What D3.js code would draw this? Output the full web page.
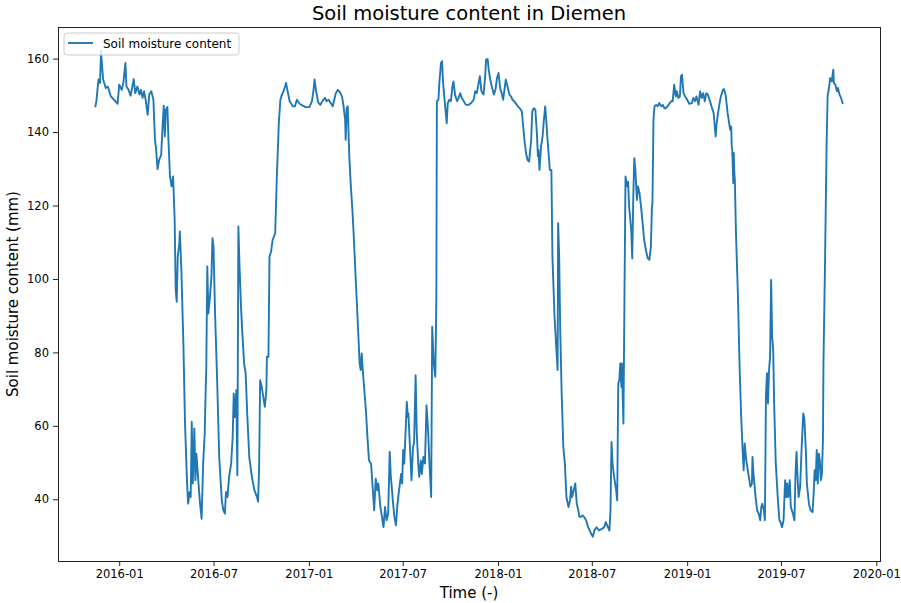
<!DOCTYPE html>
<html>
<head>
<meta charset="utf-8">
<script src="https://cdn.jsdelivr.net/npm/d3@7"></script>
<style>
  body { margin: 0; background: #fff; }
  svg { display: block; }
  text { font-family: "DejaVu Sans", sans-serif; fill: #000; }
</style>
</head>
<body>
<svg id="chart" width="901" height="603"></svg>
<script>
// ---------------- data ----------------
const chartTitle = "Soil moisture content in Diemen";
const seriesName = "Soil moisture content";
const xLabel = "Time (-)";
const yLabel = "Soil moisture content (mm)";

const dates = [
"2015-11-16","2015-11-18","2015-11-22","2015-11-25","2015-11-27","2015-11-29","2015-12-01","2015-12-06","2015-12-10","2015-12-16","2015-12-22","2015-12-29",
"2016-01-01","2016-01-06","2016-01-09","2016-01-13","2016-01-15","2016-01-19","2016-01-23","2016-01-29","2016-02-01","2016-02-05","2016-02-09","2016-02-12","2016-02-15","2016-02-18","2016-02-21","2016-02-25","2016-02-28",
"2016-03-03","2016-03-07","2016-03-10","2016-03-12","2016-03-15","2016-03-18","2016-03-22","2016-03-25","2016-03-27","2016-03-29","2016-03-31",
"2016-04-03","2016-04-05","2016-04-08","2016-04-11","2016-04-14","2016-04-17","2016-04-19","2016-04-21","2016-04-23","2016-04-26","2016-04-27","2016-04-30",
"2016-05-04","2016-05-07","2016-05-11","2016-05-13","2016-05-16","2016-05-18","2016-05-20","2016-05-22","2016-05-25","2016-05-27","2016-05-29",
"2016-06-02","2016-06-05","2016-06-08","2016-06-11","2016-06-14","2016-06-16","2016-06-17","2016-06-19","2016-06-21","2016-06-24","2016-06-27","2016-06-29",
"2016-07-01","2016-07-04","2016-07-08","2016-07-12","2016-07-17","2016-07-20","2016-07-23","2016-07-25","2016-07-28","2016-07-31",
"2016-08-04","2016-08-07","2016-08-09","2016-08-11","2016-08-14","2016-08-16","2016-08-18","2016-08-20","2016-08-23","2016-08-26","2016-08-29",
"2016-09-01","2016-09-04","2016-09-08","2016-09-13","2016-09-18","2016-09-23","2016-09-25","2016-09-27","2016-09-29",
"2016-10-02","2016-10-06","2016-10-08","2016-10-11","2016-10-12","2016-10-15","2016-10-17","2016-10-20","2016-10-23","2016-10-28","2016-10-31",
"2016-11-04","2016-11-07","2016-11-10","2016-11-13","2016-11-16","2016-11-18","2016-11-21","2016-11-25",
"2016-12-01","2016-12-05","2016-12-09","2016-12-14","2016-12-20","2016-12-26",
"2017-01-02","2017-01-07","2017-01-10","2017-01-12","2017-01-15","2017-01-19","2017-01-23","2017-01-27",
"2017-02-01","2017-02-04","2017-02-08","2017-02-12","2017-02-16","2017-02-19","2017-02-22","2017-02-26",
"2017-03-02","2017-03-06","2017-03-09","2017-03-12","2017-03-13","2017-03-15","2017-03-17","2017-03-20","2017-03-23","2017-03-26","2017-03-28","2017-03-31",
"2017-04-03","2017-04-06","2017-04-09","2017-04-11","2017-04-13","2017-04-15","2017-04-18","2017-04-21","2017-04-24","2017-04-27",
"2017-05-01","2017-05-04","2017-05-07","2017-05-10","2017-05-13","2017-05-15","2017-05-19","2017-05-22","2017-05-25","2017-05-28","2017-05-31",
"2017-06-03","2017-06-06","2017-06-08","2017-06-12","2017-06-15","2017-06-18","2017-06-21","2017-06-24","2017-06-28","2017-06-30",
"2017-07-02","2017-07-04","2017-07-07","2017-07-09","2017-07-11","2017-07-12","2017-07-16","2017-07-18","2017-07-21","2017-07-23","2017-07-26","2017-07-28","2017-07-31",
"2017-08-02","2017-08-05","2017-08-07","2017-08-10","2017-08-13","2017-08-16","2017-08-19","2017-08-22","2017-08-25","2017-08-27","2017-08-30",
"2017-09-02","2017-09-04","2017-09-05","2017-09-08","2017-09-10","2017-09-13","2017-09-15","2017-09-17","2017-09-21","2017-09-24","2017-09-26","2017-09-29",
"2017-10-02","2017-10-05","2017-10-07","2017-10-10","2017-10-14","2017-10-17","2017-10-20","2017-10-23","2017-10-27","2017-10-31",
"2017-11-05","2017-11-10","2017-11-15","2017-11-18","2017-11-21","2017-11-24","2017-11-27","2017-11-30",
"2017-12-04","2017-12-07","2017-12-09","2017-12-12","2017-12-14","2017-12-17","2017-12-20","2017-12-24","2017-12-27","2017-12-30",
"2018-01-02","2018-01-05","2018-01-08","2018-01-11","2018-01-13","2018-01-16","2018-01-20","2018-01-23","2018-01-26","2018-01-29",
"2018-02-01","2018-02-05","2018-02-08","2018-02-12","2018-02-16","2018-02-18","2018-02-21","2018-02-24","2018-02-27",
"2018-03-02","2018-03-06","2018-03-08","2018-03-11","2018-03-14","2018-03-17","2018-03-19","2018-03-20","2018-03-22","2018-03-25","2018-03-28","2018-03-30",
"2018-04-02","2018-04-04","2018-04-06","2018-04-09","2018-04-11","2018-04-14","2018-04-16","2018-04-20","2018-04-23","2018-04-26","2018-04-27","2018-04-29",
"2018-05-01","2018-05-04","2018-05-07","2018-05-10","2018-05-13","2018-05-17","2018-05-20","2018-05-22","2018-05-24","2018-05-27","2018-05-30",
"2018-06-02","2018-06-05","2018-06-07","2018-06-10","2018-06-13","2018-06-16","2018-06-20","2018-06-24","2018-06-28",
"2018-07-03","2018-07-06","2018-07-10","2018-07-15","2018-07-21","2018-07-25","2018-07-28",
"2018-08-01","2018-08-04","2018-08-06","2018-08-08","2018-08-10","2018-08-13","2018-08-17","2018-08-19","2018-08-21","2018-08-23","2018-08-25","2018-08-27","2018-08-28","2018-08-31",
"2018-09-02","2018-09-04","2018-09-07","2018-09-09","2018-09-11","2018-09-15","2018-09-17","2018-09-19","2018-09-21","2018-09-23","2018-09-26","2018-09-28",
"2018-10-01","2018-10-04","2018-10-07","2018-10-10","2018-10-14","2018-10-17","2018-10-20","2018-10-23","2018-10-25","2018-10-26","2018-10-28","2018-10-30",
"2018-11-02","2018-11-05","2018-11-08","2018-11-12","2018-11-15","2018-11-18","2018-11-21","2018-11-26",
"2018-12-01","2018-12-04","2018-12-07","2018-12-10","2018-12-12","2018-12-15","2018-12-18","2018-12-20","2018-12-22","2018-12-25","2018-12-28",
"2019-01-01","2019-01-05","2019-01-10","2019-01-13","2019-01-16","2019-01-19","2019-01-23","2019-01-26","2019-01-29",
"2019-02-01","2019-02-04","2019-02-07","2019-02-10","2019-02-14","2019-02-17","2019-02-21","2019-02-23","2019-02-25","2019-02-27",
"2019-03-02","2019-03-04","2019-03-07","2019-03-11","2019-03-13","2019-03-16","2019-03-18","2019-03-20","2019-03-23","2019-03-25","2019-03-27","2019-03-28","2019-03-29","2019-03-31",
"2019-04-01","2019-04-02","2019-04-03","2019-04-05","2019-04-09","2019-04-12","2019-04-15","2019-04-18","2019-04-20","2019-04-22","2019-04-25","2019-04-28","2019-04-30",
"2019-05-03","2019-05-06","2019-05-07","2019-05-09","2019-05-13","2019-05-16","2019-05-19","2019-05-22","2019-05-24","2019-05-26","2019-05-29","2019-05-31",
"2019-06-02","2019-06-04","2019-06-06","2019-06-08","2019-06-10","2019-06-12","2019-06-14","2019-06-16","2019-06-18","2019-06-21","2019-06-25","2019-06-28",
"2019-07-01","2019-07-03","2019-07-06","2019-07-09","2019-07-11","2019-07-13","2019-07-15","2019-07-18","2019-07-20","2019-07-24","2019-07-27","2019-07-29","2019-07-31",
"2019-08-02","2019-08-04","2019-08-07","2019-08-10","2019-08-13","2019-08-15","2019-08-18","2019-08-20","2019-08-24","2019-08-27","2019-08-31",
"2019-09-02","2019-09-04","2019-09-06","2019-09-08","2019-09-10","2019-09-12","2019-09-14","2019-09-16","2019-09-18","2019-09-20","2019-09-21","2019-09-24","2019-09-27","2019-09-29",
"2019-10-02","2019-10-04","2019-10-07","2019-10-10","2019-10-11","2019-10-14","2019-10-17","2019-10-19","2019-10-22","2019-10-25","2019-10-28"
];

const moisture = [
147.0,148.4,154.3,153.4,162.0,157.9,154.3,152.0,152.4,149.7,148.8,147.7,
152.9,151.5,153.4,158.8,152.4,151.5,149.9,154.4,150.6,152.4,150.2,151.5,149.3,151.1,148.8,144.7,150.2,
151.1,148.8,137.9,135.6,129.9,132.4,133.8,142.4,147.2,138.8,146.1,
146.8,137.9,127.9,125.2,127.9,116.1,97.0,93.8,106.1,109.7,112.9,102.4,
81.5,60.6,44.3,38.8,42.0,40.6,61.1,44.3,59.3,45.2,52.4,
44.3,38.8,34.7,49.7,57.9,70.6,75.2,103.4,90.6,95.0,100.6,111.1,
108.8,90.6,72.4,51.5,39.7,37.0,36.1,42.0,40.6,46.1,
49.7,57.0,68.8,62.4,69.7,46.5,114.3,104.3,92.4,84.3,77.0,
74.3,63.4,51.5,46.1,42.4,40.6,39.3,48.8,72.4,
70.6,67.0,65.2,69.7,78.8,78.8,106.1,107.4,110.6,112.4,127.0,
142.4,148.8,150.2,151.1,152.4,153.4,151.1,148.4,
147.0,147.0,148.8,147.7,147.2,146.8,
146.8,148.4,151.5,154.3,151.1,148.1,147.4,148.4,
149.3,148.4,148.8,147.9,147.0,148.8,150.6,151.5,
150.8,149.7,147.0,143.4,137.9,146.5,147.0,133.4,125.2,118.8,113.4,104.3,
95.2,86.1,77.0,75.2,79.7,75.2,69.7,64.3,57.0,50.6,
49.7,43.4,37.0,45.6,42.4,44.3,37.9,35.2,32.4,37.9,34.3,
36.1,52.9,46.5,39.7,35.2,32.9,38.8,42.4,46.9,44.3,
53.4,49.7,59.7,66.5,62.4,63.4,51.5,45.2,54.3,55.2,73.8,58.8,49.7,
46.1,50.6,46.9,51.5,49.7,65.6,58.8,48.8,40.6,87.0,77.0,
73.4,95.2,148.4,148.8,153.8,158.8,159.3,153.4,147.0,142.4,147.9,148.8,
148.4,152.4,153.8,150.2,148.4,149.3,150.6,149.3,148.4,147.4,
147.4,147.9,148.8,151.1,150.6,152.9,155.2,151.1,
150.2,154.7,159.7,159.9,157.0,154.3,152.4,150.2,151.5,154.7,
156.1,152.0,150.6,148.8,151.1,154.3,152.0,150.2,149.7,148.8,
148.4,147.7,147.0,146.5,145.6,142.4,137.9,134.3,132.4,
132.0,137.9,145.6,146.5,146.1,139.7,133.4,135.2,129.7,136.1,138.8,142.4,
147.0,143.4,139.0,133.4,129.7,129.7,106.0,90.0,82.4,75.2,115.2,106.1,
86.1,67.9,54.3,49.7,40.6,37.9,39.7,43.4,40.6,42.4,44.3,
38.8,37.0,35.2,35.2,35.6,35.2,34.3,32.4,31.1,
29.8,31.5,32.4,31.5,32.0,32.4,33.8,
32.4,31.5,37.0,55.6,49.7,46.1,42.4,39.7,71.5,72.4,77.0,70.6,77.0,60.6,
95.2,127.9,125.2,126.5,119.7,113.4,105.6,122.4,132.9,129.7,121.5,125.2,
123.4,119.7,115.2,110.6,107.4,105.6,105.2,108.8,119.7,120.6,143.4,147.0,
147.4,147.0,147.9,147.0,147.4,146.5,146.5,147.4,
148.4,148.4,152.9,149.7,151.1,149.3,149.7,155.2,155.6,150.6,149.7,
148.8,147.7,147.9,149.3,148.4,149.7,147.4,151.1,149.3,
150.6,148.4,150.6,150.2,148.4,147.0,145.2,142.0,138.8,142.4,
145.6,147.4,149.7,151.5,151.7,150.2,147.9,145.2,142.4,140.6,141.5,136.1,135.2,126.1,
134.3,128.8,127.0,113.4,95.2,77.0,63.4,53.4,47.9,55.2,50.6,47.9,46.1,
43.4,44.3,51.5,46.9,40.6,37.0,36.1,34.3,37.9,38.8,37.0,34.3,
67.9,74.3,66.1,75.2,78.8,99.7,84.3,80.6,65.0,49.7,40.0,34.3,
33.4,32.4,34.3,45.2,40.6,44.3,40.6,45.2,37.9,36.1,34.3,46.9,52.9,
46.1,40.6,43.4,54.3,63.4,62.0,53.4,44.3,38.8,37.0,36.5,
41.5,47.9,45.2,53.4,44.3,52.4,50.6,45.2,46.9,56.1,77.0,104.3,136.1,149.7,
152.4,154.7,153.8,157.0,153.4,152.9,151.1,152.0,150.2,149.3,147.9
];

const yTicks = [40, 60, 80, 100, 120, 140, 160];
const xTickDates = ["2016-01-01","2016-07-01","2017-01-01","2017-07-01","2018-01-01","2018-07-01","2019-01-01","2019-07-01","2020-01-01"];
const xTickLabels = ["2016-01","2016-07","2017-01","2017-07","2018-01","2018-07","2019-01","2019-07","2020-01"];

// ---------------- drawing ----------------
const W = 901, H = 603;
const margin = { top: 27, right: 21, bottom: 42, left: 58 };
const iw = W - margin.left - margin.right;
const ih = H - margin.top - margin.bottom;

const parse = d3.utcParse("%Y-%m-%d");
const data = dates.map((d, i) => ({ date: parse(d), value: moisture[i] }));

// matplotlib-like 5% padding around the data extent
const xExt = d3.extent(data, d => +d.date);
const xPad = (xExt[1] - xExt[0]) * 0.05;
const yExt = d3.extent(data, d => d.value);
const yPad = (yExt[1] - yExt[0]) * 0.05;

const x = d3.scaleUtc()
  .domain([new Date(xExt[0] - xPad), new Date(xExt[1] + xPad)])
  .range([0, iw]);
const y = d3.scaleLinear()
  .domain([yExt[0] - yPad, yExt[1] + yPad])
  .range([ih, 0]);

const svg = d3.select("#chart");
const g = svg.append("g").attr("transform", `translate(${margin.left},${margin.top})`);

// line
const line = d3.line().x(d => x(d.date)).y(d => y(d.value));
const clipId = "plotclip";
svg.append("defs").append("clipPath").attr("id", clipId)
  .append("rect").attr("width", iw).attr("height", ih);
g.append("path")
  .datum(data)
  .attr("clip-path", `url(#${clipId})`)
  .attr("fill", "none")
  .attr("stroke", "#1f77b4")
  .attr("stroke-width", 1.9)
  .attr("stroke-linejoin", "round")
  .attr("stroke-linecap", "square")
  .attr("d", line);

// axes
const xAxis = d3.axisBottom(x)
  .tickValues(xTickDates.map(parse))
  .tickFormat((d, i) => xTickLabels[i])
  .tickSize(5).tickPadding(4);
const yAxis = d3.axisLeft(y)
  .tickValues(yTicks)
  .tickSize(5).tickPadding(4);

const gx = g.append("g").attr("transform", `translate(0,${ih})`).call(xAxis);
const gy = g.append("g").call(yAxis);
[gx, gy].forEach(a => {
  a.select(".domain").remove();
  a.selectAll(".tick line").attr("stroke", "#222").attr("stroke-width", 1);
  a.selectAll(".tick text").attr("fill", "#111").style("font-size", "11.5px")
    .style("font-family", "'DejaVu Sans', sans-serif");
});

// frame (spines)
g.append("rect")
  .attr("x", 0).attr("y", 0).attr("width", iw).attr("height", ih)
  .attr("fill", "none").attr("stroke", "#222").attr("stroke-width", 1)
  .attr("shape-rendering", "crispEdges");

// title and axis labels
svg.append("text")
  .attr("x", margin.left + iw / 2).attr("y", 20)
  .attr("text-anchor", "middle")
  .style("font-size", "19.5px")
  .text(chartTitle);
svg.append("text")
  .attr("x", margin.left + iw / 2).attr("y", 598)
  .attr("text-anchor", "middle")
  .style("font-size", "15px")
  .text(xLabel);
svg.append("text")
  .attr("transform", `translate(18,${margin.top + ih / 2}) rotate(-90)`)
  .attr("text-anchor", "middle")
  .style("font-size", "15px")
  .text(yLabel);

// legend
const lg = g.append("g").attr("transform", "translate(6,6)");
lg.append("rect")
  .attr("width", 175).attr("height", 22).attr("rx", 3)
  .attr("fill", "#fff").attr("fill-opacity", 0.8)
  .attr("stroke", "#cccccc").attr("stroke-width", 1);
lg.append("line")
  .attr("x1", 4).attr("x2", 29).attr("y1", 10).attr("y2", 10)
  .attr("stroke", "#1f77b4").attr("stroke-width", 1.9);
lg.append("text")
  .attr("x", 39).attr("y", 14.5)
  .style("font-size", "12px")
  .text(seriesName);
</script>
</body>
</html>
